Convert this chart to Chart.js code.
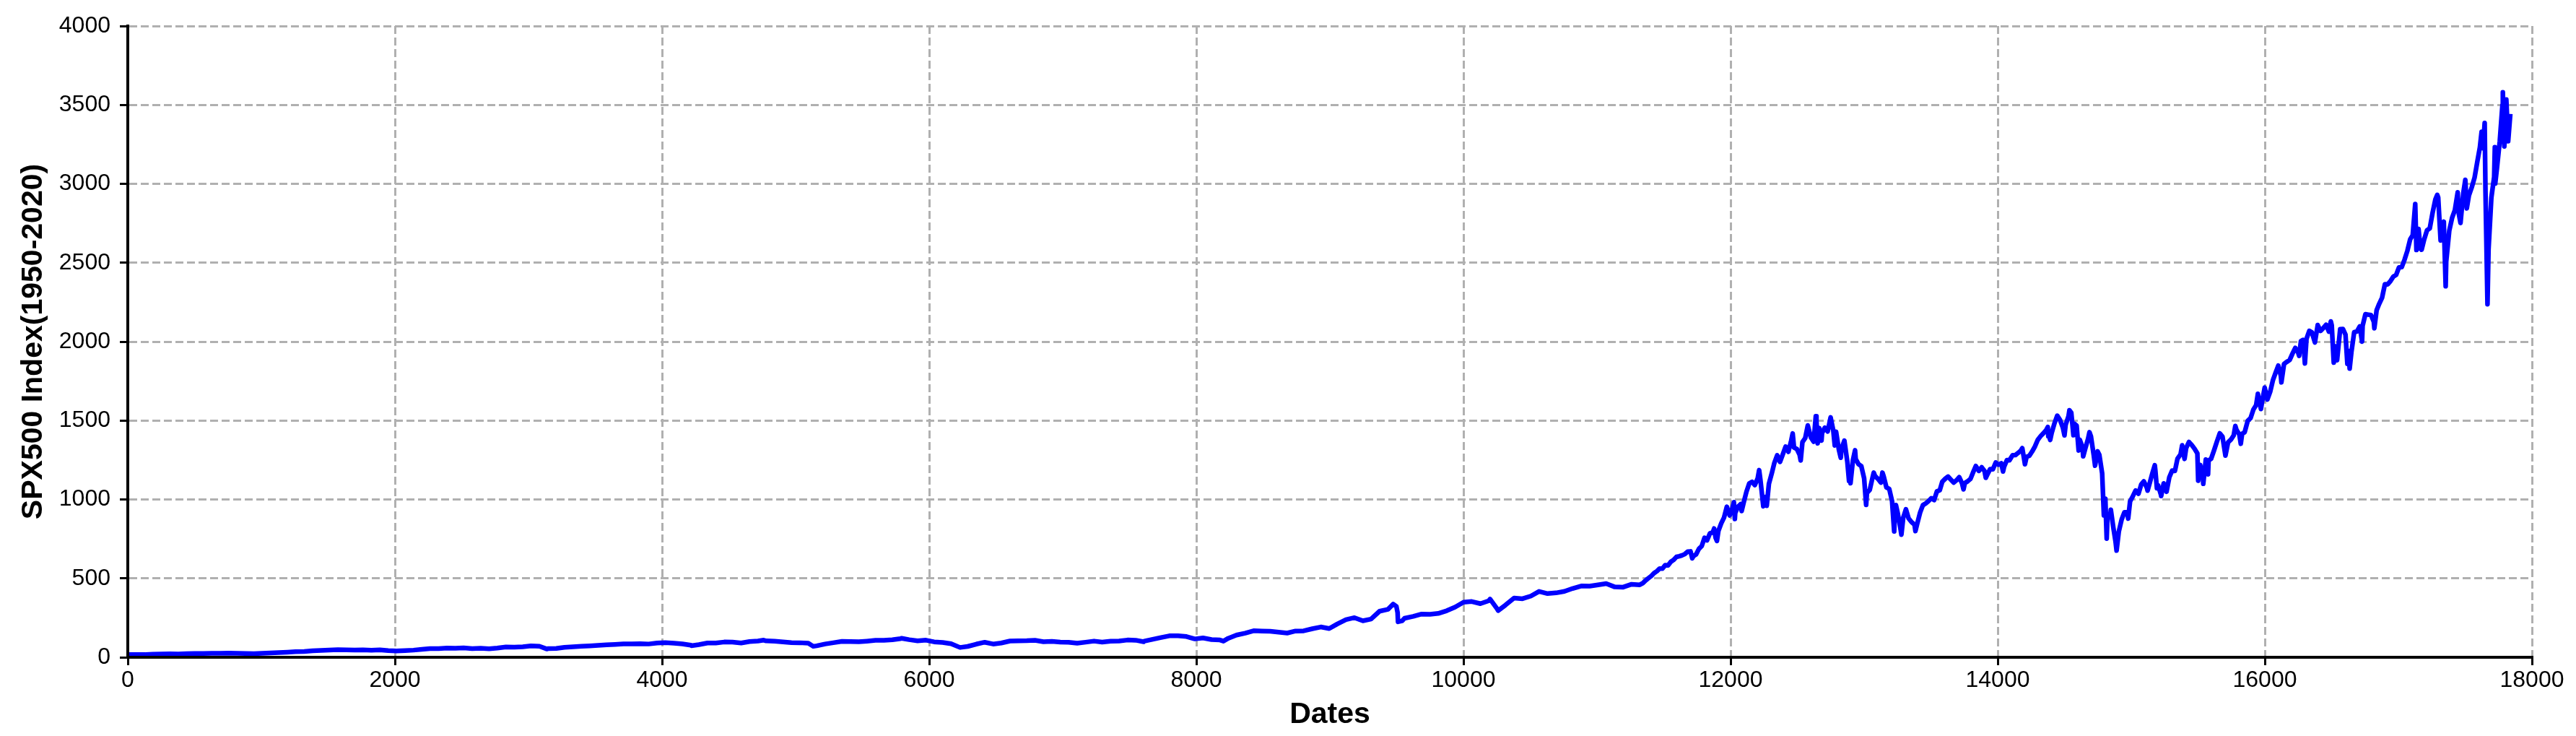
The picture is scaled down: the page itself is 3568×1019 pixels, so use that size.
<!DOCTYPE html>
<html>
<head>
<meta charset="utf-8">
<title>SPX500 Index (1950-2020)</title>
<script src="https://cdn.jsdelivr.net/npm/chart.js@4.4.1/dist/chart.umd.min.js"></script>
<style>
    html, body { margin: 0; padding: 0; background: #ffffff; }
    #chart { display: block; }
</style>
</head>
<body>
<canvas id="chart" width="3568" height="1019"></canvas>
<script>
// trading-day index (0 = first session of 1950) and close of the S&P 500
const tradingDay = [
    0, 63, 126, 135, 189, 250,                 // 1950
    315, 378, 441, 502,
    566, 629, 692, 753,
    818, 881, 944, 1005,
    1069, 1132, 1195, 1256,
    1321, 1384, 1447, 1508,                    // 1955
    1573, 1636, 1699, 1760,
    1824, 1887, 1950, 2011,
    2076, 2139, 2202, 2263,
    2327, 2390, 2453, 2514,
    2579, 2642, 2705, 2766,                    // 1960
    2831, 2894, 2957, 3018,
    3082, 3139, 3145, 3208, 3269,
    3334, 3397, 3460, 3521,
    3585, 3648, 3711, 3772,
    3837, 3900, 3963, 4024,                    // 1965
    4089, 4152, 4215, 4220, 4276,
    4340, 4403, 4466, 4527,
    4592, 4655, 4718, 4761, 4779,
    4843, 4906, 4969, 5030,
    5095, 5132, 5158, 5221, 5282,              // 1970
    5347, 5410, 5473, 5534,
    5598, 5661, 5724, 5785,
    5794, 5850, 5913, 5976, 6037,
    6101, 6164, 6227, 6233, 6288,
    6353, 6416, 6479, 6540,                    // 1975
    6605, 6668, 6731, 6792,
    6856, 6919, 6982, 7043,
    7108, 7171, 7234, 7295,
    7359, 7422, 7485, 7546,
    7606, 7611, 7674, 7737, 7798,              // 1980
    7863, 7926, 7989, 8050,
    8114, 8177, 8203, 8240, 8301,
    8366, 8429, 8492, 8553,
    8617, 8680, 8743, 8804,
    8869, 8932, 8995, 9056,                    // 1985
    9121, 9184, 9247, 9308,
    9372, 9435, 9474, 9498, 9507, 9510, 9540, 9559,
    9624, 9687, 9750, 9811,
    9875, 9938, 10001, 10062,
    10127, 10190, 10199, 10253, 10260, 10314,  // 1990
    10379, 10442, 10505, 10566,
    10630, 10693, 10756, 10817,
    10882, 10945, 11008, 11069,
    11133, 11196, 11259, 11320,
    11343, 11364, 11385, 11406, 11427, 11448, 11469, 11490, 11511, 11532, 11553, 11572,   // 1995
    11595, 11616, 11637, 11658, 11679, 11700, 11713, 11721, 11742, 11763, 11784, 11805, 11824,
    11846, 11867, 11877, 11888, 11898, 11909, 11930, 11951, 11972, 11993, 12014, 12025, 12032, 12035, 12056, 12075,
    12083, 12098, 12119, 12140, 12161, 12182, 12203, 12214, 12224, 12245, 12266, 12271, 12287, 12308, 12327,
    12349, 12370, 12391, 12412, 12433, 12454, 12465, 12475, 12496, 12517, 12525, 12538, 12559, 12578,
    12601, 12622, 12638, 12643, 12652, 12664, 12681, 12685, 12706, 12727, 12749, 12769, 12780, 12790, 12811, 12825, 12830, // 2000
    12852, 12874, 12887, 12895, 12898, 12916, 12932, 12937, 12958, 12979, 13000, 13015, 13021, 13042, 13063, 13072, 13082,
    13104, 13125, 13137, 13146, 13167, 13188, 13209, 13225, 13230, 13238, 13251, 13272, 13279, 13293, 13313, 13333,
    13356, 13377, 13384, 13398, 13419, 13440, 13461, 13482, 13503, 13524, 13545, 13566, 13585,
    13607, 13628, 13649, 13670, 13691, 13712, 13733, 13744, 13754, 13775, 13796, 13817, 13836,
    13859, 13880, 13901, 13911, 13922, 13943, 13964, 13985, 14006, 14027, 14040, 14048, 14069, 14088,   // 2005
    14111, 14132, 14153, 14174, 14184, 14195, 14204, 14216, 14237, 14258, 14279, 14300, 14321, 14340,
    14362, 14375, 14379, 14383, 14393, 14404, 14425, 14446, 14467, 14488, 14500, 14509, 14530, 14537, 14551, 14567, 14572, 14591,
    14606, 14614, 14635, 14640, 14656, 14677, 14687, 14698, 14719, 14729, 14740, 14748, 14761, 14782, 14795, 14803, 14806, 14816, 14822, 14843,
    14847, 14865, 14882, 14890, 14907, 14928, 14949, 14970, 14977, 14991, 15012, 15033, 15054, 15075, 15094,
    15117, 15122, 15138, 15159, 15176, 15180, 15192, 15201, 15222, 15224, 15243, 15264, 15285, 15306, 15327, 15346, // 2010
    15369, 15381, 15399, 15411, 15432, 15453, 15474, 15495, 15501, 15516, 15537, 15539, 15558, 15575, 15579, 15598,
    15620, 15641, 15663, 15683, 15705, 15725, 15746, 15767, 15779, 15788, 15809, 15820, 15830, 15849,
    15872, 15893, 15914, 15935, 15948, 15956, 15971, 15977, 15999, 16019, 16040, 16061, 16082, 16101,
    16120, 16124, 16144, 16165, 16186, 16207, 16228, 16249, 16257, 16270, 16286, 16291, 16300, 16312, 16333, 16352,
    16375, 16396, 16417, 16438, 16459, 16480, 16494, 16501, 16516, 16522, 16541, 16564, 16585, 16604,   // 2015
    16618, 16627, 16635, 16648, 16669, 16690, 16711, 16728, 16732, 16753, 16774, 16795, 16816, 16820, 16837, 16856,
    16878, 16899, 16920, 16941, 16962, 16983, 17004, 17025, 17046, 17067, 17088, 17107,
    17126, 17135, 17151, 17165, 17172, 17174, 17193, 17214, 17235, 17256, 17277, 17291, 17298, 17316, 17319, 17340, 17354, 17358,
    17381, 17402, 17423, 17444, 17452, 17465, 17486, 17501, 17512, 17528, 17549, 17570, 17591, 17610,
    17623, 17633, 17646, 17652, 17667, 17675, 17696, 17717, 17722, 17725, 17738, 17759, 17779, 17782, 17793, 17801, 17808, 17822, 17838 // 2020
];

const spxClose = [
    16.7, 17.3, 17.7, 16.7, 19.5, 20.4,
    21.5, 21.0, 23.3, 23.8,
    24.4, 25.0, 25.0, 26.6,
    25.3, 24.1, 23.4, 24.8,
    26.9, 29.2, 32.3, 36.0,
    36.6, 41.0, 43.7, 45.5,
    48.5, 47.0, 45.4, 46.7,
    44.1, 47.4, 42.4, 40.0,
    42.1, 45.2, 50.1, 55.2,
    55.4, 58.5, 56.9, 59.9,
    55.3, 56.9, 53.5, 58.1,
    65.1, 64.6, 66.7, 71.6,
    69.6, 52.3, 54.8, 56.3, 63.1,
    66.6, 69.4, 71.7, 75.0,
    79.0, 81.7, 84.2, 84.8,
    86.2, 84.1, 90.0, 92.4,
    89.2, 84.7, 76.6, 73.2, 80.3,
    90.2, 90.6, 96.7, 96.5,
    90.2, 99.6, 102.7, 108.4, 103.9,
    101.5, 97.7, 93.1, 92.1,
    89.6, 69.3, 72.7, 84.2, 92.2,
    100.3, 99.7, 98.3, 102.1,
    107.2, 107.1, 110.6, 118.1,
    120.2, 111.5, 104.3, 108.4, 97.6,
    94.0, 86.0, 63.5, 62.3, 68.6,
    83.4, 95.2, 83.9, 90.2,
    102.8, 104.3, 105.2, 107.5,
    98.4, 100.5, 96.5, 95.1,
    89.2, 95.5, 102.5, 96.1,
    101.6, 102.9, 109.3, 107.9,
    98.2, 102.1, 114.2, 125.5, 135.8,
    136.0, 131.2, 116.2, 122.6,
    112.0, 109.6, 102.4, 120.4, 140.6,
    153.0, 168.1, 166.1, 164.9,
    159.2, 153.2, 166.1, 167.2,
    180.7, 191.9, 182.1, 211.3,
    238.9, 250.8, 231.3, 242.2,
    291.7, 304.0, 336.8, 321.8, 282.7, 224.8, 230.3, 247.1,
    258.9, 273.5, 271.9, 277.7,
    294.9, 318.0, 349.2, 353.4,
    339.9, 358.0, 369.0, 306.1, 295.5, 330.2,
    375.2, 371.2, 387.9, 417.1,
    403.7, 408.1, 417.8, 435.7,
    451.7, 450.5, 458.9, 466.5,
    445.8, 444.3, 462.7, 459.3,
    470, 487, 501, 515, 533, 545, 562, 562, 584, 582, 605, 616,
    636, 640, 646, 654, 669, 671, 627, 640, 652, 687, 705, 757, 741,
    786, 791, 816, 757, 737, 801, 848, 885, 954, 899, 947, 983, 876, 915, 955, 970,
    927, 980, 1049, 1102, 1112, 1091, 1134, 1186, 1121, 957, 1017, 960, 1099, 1164, 1229,
    1280, 1238, 1286, 1335, 1302, 1373, 1418, 1329, 1320, 1283, 1247, 1363, 1389, 1469,
    1394, 1366, 1527, 1499, 1356, 1452, 1373, 1421, 1455, 1431, 1520, 1437, 1342, 1429, 1315, 1264, 1320,
    1373, 1240, 1117, 1160, 1103, 1249, 1312, 1256, 1224, 1211, 1134, 966, 1041, 1060, 1139, 1170, 1148,
    1130, 1107, 1170, 1147, 1076, 1067, 990, 797, 912, 965, 916, 815, 777, 886, 938, 880,
    856, 841, 800, 848, 917, 964, 975, 990, 1008, 996, 1051, 1058, 1112,
    1131, 1145, 1126, 1107, 1121, 1141, 1102, 1064, 1104, 1115, 1130, 1174, 1212,
    1181, 1204, 1181, 1137, 1157, 1192, 1191, 1234, 1220, 1229, 1177, 1207, 1249, 1248,
    1280, 1281, 1295, 1311, 1325, 1270, 1223, 1270, 1277, 1304, 1336, 1378, 1401, 1418,
    1438, 1459, 1399, 1407, 1377, 1421, 1482, 1531, 1503, 1455, 1406, 1474, 1527, 1565, 1549, 1407, 1481, 1468,
    1310, 1379, 1331, 1273, 1323, 1386, 1426, 1400, 1280, 1214, 1267, 1305, 1283, 1166, 899, 969, 1005, 752, 896, 903,
    935, 826, 735, 676, 798, 873, 919, 919, 879, 987, 1021, 1057, 1036, 1096, 1115,
    1074, 1056, 1104, 1169, 1217, 1187, 1071, 1089, 1031, 1022, 1102, 1049, 1141, 1183, 1181, 1258,
    1286, 1343, 1257, 1326, 1364, 1345, 1321, 1292, 1119, 1219, 1131, 1099, 1253, 1159, 1247, 1258,
    1312, 1366, 1419, 1398, 1278, 1362, 1379, 1406, 1466, 1441, 1412, 1353, 1416, 1426,
    1498, 1515, 1569, 1598, 1669, 1631, 1573, 1606, 1709, 1633, 1682, 1757, 1806, 1848,
    1783, 1742, 1859, 1872, 1884, 1924, 1960, 1931, 1910, 2003, 2011, 1972, 1862, 2018, 2068, 2059,
    1995, 2105, 2068, 2086, 2107, 2063, 2128, 2104, 1867, 1972, 1882, 2079, 2080, 2044,
    1859, 1940, 1829, 1932, 2060, 2065, 2097, 2000, 2099, 2174, 2171, 2168, 2126, 2085, 2199, 2239,
    2279, 2364, 2363, 2384, 2412, 2423, 2470, 2472, 2519, 2575, 2648, 2674,
    2872, 2581, 2714, 2588, 2641, 2582, 2648, 2705, 2718, 2816, 2902, 2930, 2914, 2641, 2712, 2760, 2351, 2507,
    2704, 2784, 2834, 2946, 2812, 2752, 2942, 3025, 2844, 2926, 2977, 3038, 3141, 3231,
    3330, 3226, 3386, 2954, 2237, 2585, 2912, 3044, 3232, 3002, 3100, 3271, 3500, 3580, 3237, 3363, 3534, 3270, 3443
];

const xTickStep = 2000;
const yTickStep = 500;

if (tradingDay.length !== spxClose.length) {
    console.warn('length mismatch', tradingDay.length, spxClose.length);
}

const FONT = "'Liberation Sans', Arial, Helvetica, sans-serif";

const points = tradingDay.map((d, i) => ({ x: d, y: spxClose[i] }));

const ctx = document.getElementById('chart').getContext('2d');

new Chart(ctx, {
    type: 'line',
    data: {
        datasets: [{
            label: 'SPX500',
            data: points,
            borderColor: '#0000ff',
            borderWidth: 6.5,
            borderJoinStyle: 'round',
            pointRadius: 0,
            tension: 0,
            fill: false
        }]
    },
    options: {
        responsive: false,
        maintainAspectRatio: false,
        devicePixelRatio: 1,
        animation: false,
        layout: {
            padding: { left: 0, top: 36, right: 61, bottom: 0 }
        },
        plugins: {
            legend: { display: false },
            tooltip: { enabled: false }
        },
        scales: {
            x: {
                type: 'linear',
                min: 0,
                max: 18000,
                ticks: {
                    stepSize: xTickStep,
                    autoSkip: false,
                    maxRotation: 0,
                    color: '#000',
                    padding: 2,
                    font: { family: FONT, size: 32 },
                    callback: v => String(v)
                },
                grid: {
                    color: '#b0b0b0',
                    lineWidth: 3,
                    tickLength: 11,
                    tickColor: '#000',
                    tickWidth: 3,
                    tickBorderDash: []
                },
                border: { display: true, color: '#000', width: 4, dash: [11, 5], z: 1 },
                title: {
                    display: true,
                    text: 'Dates',
                    color: '#000',
                    font: { family: FONT, size: 41, weight: 'bold' },
                    padding: { top: 0, bottom: 5 }
                },
                afterFit: scale => { scale.height = 109; }
            },
            y: {
                type: 'linear',
                min: 0,
                max: 4000,
                ticks: {
                    stepSize: yTickStep,
                    color: '#000',
                    padding: 13,
                    font: { family: FONT, size: 32 },
                    callback: v => String(v)
                },
                grid: {
                    color: '#b0b0b0',
                    lineWidth: 3,
                    tickLength: 11,
                    tickColor: '#000',
                    tickWidth: 3,
                    tickBorderDash: []
                },
                border: { display: true, color: '#000', width: 4, dash: [11, 5], z: 1 },
                title: {
                    display: true,
                    text: 'SPX500 Index(1950-2020)',
                    color: '#000',
                    font: { family: FONT, size: 41, weight: 'bold' },
                    padding: { top: 22, bottom: 0 }
                },
                afterFit: scale => { scale.width = 177; }
            }
        }
    }
});
</script>
</body>
</html>
